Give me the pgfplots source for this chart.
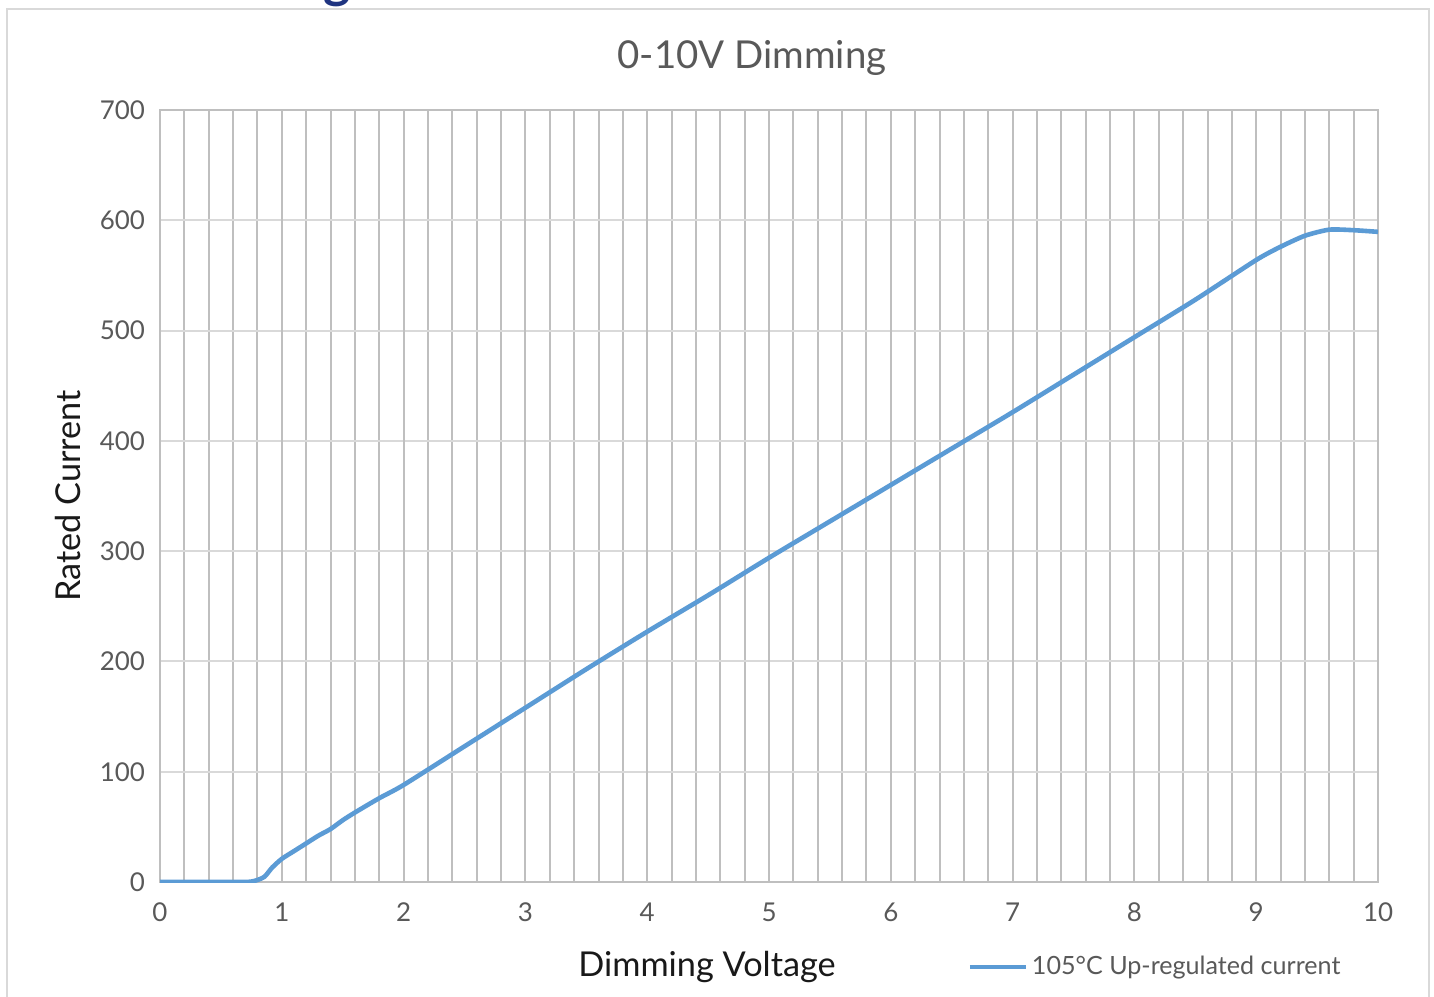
\documentclass[border=0pt]{standalone}
\usepackage{pgfplots}
\pgfplotsset{compat=1.18}
\usepackage{fontspec}
\setmainfont{Lato}
\definecolor{curve}{HTML}{5B9BD5}
\definecolor{txt}{HTML}{595959}
\definecolor{vgrid}{HTML}{BFBFBF}
\definecolor{hgrid}{HTML}{D9D9D9}
\definecolor{navy}{HTML}{1F3480}
\begin{document}
\begin{tikzpicture}
\begin{scope}[x=0.5bp,y=0.5bp]
\useasboundingbox (0,0) rectangle (1434,996);
\fill[white] (0,0) rectangle (1434,996);
\draw[hgrid, line width=1bp] (7,-10) -- (7,987) -- (1429,987) -- (1429,-10);
\node[anchor=base, text=navy, font=\bfseries\fontsize{26}{26}\selectfont] at (337,998) {g};
\node[text=txt, font=\fontsize{19.3}{22}\selectfont] at (752,938) {0-10V Dimming};
\end{scope}
\begin{axis}[
  at={(80bp,57bp)}, anchor=south west,
  scale only axis, width=609bp, height=386bp,
  xmin=0, xmax=10, ymin=0, ymax=700,
  xtick={0,1,...,10}, ytick={0,100,...,700},
  minor x tick num=4,
  grid=both,
  major grid style={line width=1bp, draw=hgrid},
  minor grid style={line width=1bp, draw=vgrid},
  xmajorgrids=false,
  extra x ticks={0,1,...,10}, extra x tick labels={},
  extra x tick style={grid=major, major grid style={line width=1bp, draw=vgrid}, major tick length=0pt},
  axis line style={draw=vgrid, line width=1bp},
  major tick length=0pt, minor tick length=0pt,
  tick label style={text=txt, font=\fontsize{13}{16}\selectfont},
  /pgf/number format/assume math mode=true,
  xticklabel style={yshift=-7bp},
  yticklabel style={xshift=-4bp},
  xlabel={Dimming Voltage}, ylabel={Rated Current},
  xlabel style={font=\fontsize{17.2}{20}\selectfont, text=black!90, at={(axis description cs:0.4491,0)}, anchor=base, yshift=-47bp},
  ylabel style={font=\fontsize{17.2}{20}\selectfont, text=black!90, yshift=2.5bp},
  legend style={draw=none, fill=none, at={(0.6630,-0.110)}, anchor=west, inner xsep=0pt, inner ysep=0pt,
    font=\fontsize{12.6}{15}\selectfont, text=txt},
  legend image code/.code={\draw[#1, line width=2bp] (0bp,0bp) -- (28bp,0bp);},
  legend cell align=left,
]
\addplot[curve, line width=2.3bp, smooth, tension=0.4] coordinates {
(0,0) (0.2,0) (0.4,0) (0.6,0) (0.7,0) (0.75,0.4) (0.8,1.8) (0.86,5) (0.92,13) (1.0,21) (1.1,28) (1.2,35) (1.3,42) (1.4,48) (1.5,56) (1.6,63) (1.8,76) (2,88) (2.5,123) (3,158) (3.5,193) (4,227) (4.5,260) (5,294) (5.5,327) (6,360) (6.5,393) (7,426) (7.5,460) (8,494) (8.5,528) (9,564) (9.2,576) (9.4,586) (9.6,591.5) (9.8,591) (10,589.5)
};
\addlegendentry{105°C Up-regulated current}
\end{axis}
\end{tikzpicture}
\end{document}
